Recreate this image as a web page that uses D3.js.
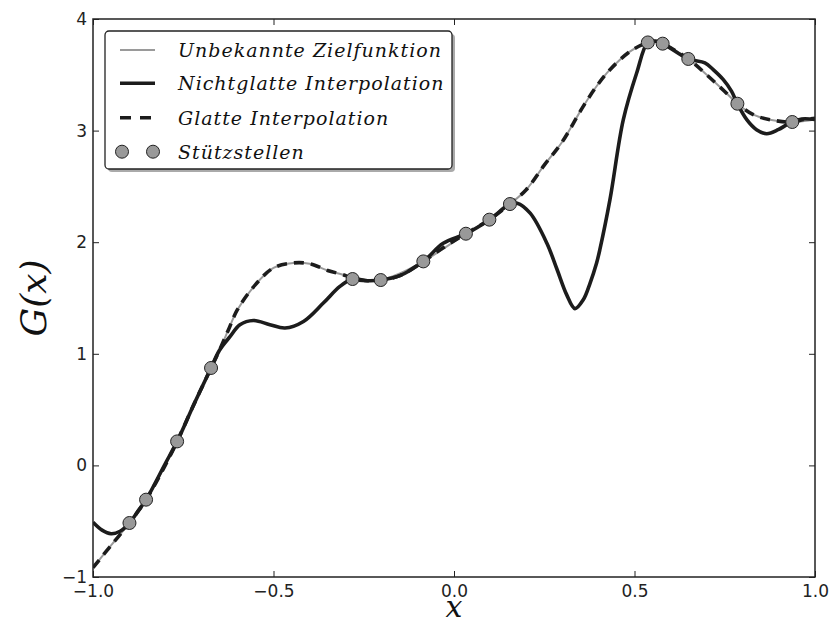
<!DOCTYPE html>
<html lang="de">
<head>
<meta charset="UTF-8">
<script src="https://d3js.org/d3.v7.min.js"></script>
<title>Interpolation</title>
<style>
  body { margin: 0; background: #fff; }
</style>
</head>
<body>
<div id="chart"></div>
<script>
// unknown target function (gray)
const targetX = [-1.0, -0.95, -0.899, -0.853, -0.8, -0.767, -0.72, -0.673, -0.65, -0.625, -0.6, -0.55, -0.5, -0.445, -0.4, -0.35, -0.3, -0.281, -0.24, -0.203, -0.15, -0.085, -0.03, 0.033, 0.098, 0.155, 0.2, 0.25, 0.3, 0.358, 0.4, 0.432, 0.488, 0.537, 0.56, 0.578, 0.649, 0.7, 0.75, 0.785, 0.829, 0.875, 0.937, 0.97, 1.0];
const targetY = [-0.917, -0.717, -0.516, -0.307, 0.0, 0.215, 0.55, 0.873, 1.03, 1.214, 1.395, 1.62, 1.77, 1.814, 1.807, 1.747, 1.70, 1.670, 1.655, 1.661, 1.72, 1.828, 1.94, 2.076, 2.202, 2.342, 2.47, 2.69, 2.90, 3.217, 3.42, 3.546, 3.710, 3.790, 3.80, 3.779, 3.642, 3.50, 3.35, 3.241, 3.143, 3.098, 3.077, 3.085, 3.10];

// non-smooth interpolation (black)
const roughX = [-1.0, -0.975, -0.95, -0.925, -0.899, -0.875, -0.853, -0.8, -0.767, -0.72, -0.673, -0.65, -0.62, -0.593, -0.556, -0.51, -0.468, -0.417, -0.362, -0.316, -0.281, -0.24, -0.203, -0.15, -0.085, -0.03, 0.033, 0.098, 0.155, 0.175, 0.211, 0.257, 0.285, 0.312, 0.335, 0.358, 0.377, 0.395, 0.404, 0.432, 0.469, 0.506, 0.537, 0.558, 0.578, 0.649, 0.695, 0.718, 0.746, 0.769, 0.785, 0.811, 0.838, 0.866, 0.898, 0.922, 0.937, 0.963, 1.0];
const roughY = [-0.51, -0.58, -0.612, -0.59, -0.516, -0.407, -0.307, 0.015, 0.215, 0.55, 0.873, 1.03, 1.156, 1.26, 1.299, 1.261, 1.231, 1.29, 1.455, 1.604, 1.670, 1.655, 1.661, 1.70, 1.828, 1.99, 2.076, 2.202, 2.342, 2.35, 2.26, 1.993, 1.76, 1.53, 1.405, 1.484, 1.634, 1.814, 1.933, 2.381, 3.098, 3.516, 3.790, 3.80, 3.779, 3.642, 3.606, 3.546, 3.456, 3.351, 3.241, 3.098, 3.008, 2.972, 3.008, 3.053, 3.077, 3.104, 3.10];

// smooth interpolation (dashed)
const smoothX = [-1.0, -0.95, -0.899, -0.853, -0.8, -0.767, -0.72, -0.673, -0.65, -0.625, -0.6, -0.55, -0.5, -0.445, -0.4, -0.35, -0.3, -0.281, -0.24, -0.203, -0.15, -0.085, -0.03, 0.033, 0.098, 0.155, 0.2, 0.25, 0.3, 0.358, 0.4, 0.432, 0.488, 0.537, 0.56, 0.578, 0.649, 0.7, 0.75, 0.785, 0.829, 0.875, 0.937, 0.97, 1.0];
const smoothY = [-0.917, -0.717, -0.516, -0.307, 0.0, 0.215, 0.55, 0.873, 1.03, 1.214, 1.395, 1.62, 1.77, 1.814, 1.807, 1.747, 1.70, 1.670, 1.655, 1.661, 1.70, 1.828, 1.95, 2.076, 2.202, 2.342, 2.47, 2.69, 2.90, 3.217, 3.42, 3.546, 3.710, 3.790, 3.80, 3.779, 3.642, 3.50, 3.35, 3.241, 3.143, 3.098, 3.077, 3.10, 3.11];

// support points
const nodeX = [-0.899, -0.853, -0.767, -0.673, -0.281, -0.203, -0.085, 0.033, 0.098, 0.155, 0.537, 0.578, 0.649, 0.785, 0.937];
const nodeY = [-0.516, -0.307, 0.215, 0.873, 1.670, 1.661, 1.828, 2.076, 2.202, 2.342, 3.790, 3.779, 3.642, 3.241, 3.077];

const xTicks = [-1.0, -0.5, 0.0, 0.5, 1.0];
const yTicks = [-1, 0, 1, 2, 3, 4];
const legendLabels = ["Unbekannte Zielfunktion", "Nichtglatte Interpolation", "Glatte Interpolation", "Stützstellen"];

const W = 832, H = 626;
const margin = {top: 19, right: 17, bottom: 49, left: 93};
const width = W - margin.left - margin.right,
      height = H - margin.top - margin.bottom;

const svg = d3.select("#chart").append("svg")
    .attr("width", W).attr("height", H);

const g = svg.append("g")
    .attr("transform", "translate(" + margin.left + "," + margin.top + ")");

const x = d3.scaleLinear().domain([-1, 1]).range([0, width]);
const y = d3.scaleLinear().domain([-1, 4]).range([height, 0]);

g.append("clipPath").attr("id", "clip")
  .append("rect").attr("width", width).attr("height", height);

const line = d3.line()
    .x(d => x(d[0])).y(d => y(d[1]))
    .curve(d3.curveCatmullRom.alpha(0.5));

const zip = (a, b) => a.map((v, i) => [v, b[i]]);

const plot = g.append("g").attr("clip-path", "url(#clip)");

plot.append("path").datum(zip(targetX, targetY))
    .attr("d", line).attr("fill", "none")
    .attr("stroke", "#9a9a9a").attr("stroke-width", 2);

plot.append("path").datum(zip(roughX, roughY))
    .attr("d", line).attr("fill", "none")
    .attr("stroke", "#1c1c1c").attr("stroke-width", 3.6);

plot.append("path").datum(zip(smoothX, smoothY))
    .attr("d", line).attr("fill", "none")
    .attr("stroke", "#1c1c1c").attr("stroke-width", 3.6)
    .attr("stroke-dasharray", "10,7");

g.append("g").selectAll("circle").data(zip(nodeX, nodeY)).enter()
  .append("circle")
    .attr("cx", d => x(d[0])).attr("cy", d => y(d[1]))
    .attr("r", 6.5)
    .attr("fill", "#999").attr("stroke", "#222").attr("stroke-width", 1);

// axes, ticks pointing in
const tickFont = "'DejaVu Sans', sans-serif";
const ax = [
  g.append("g").attr("transform", "translate(0," + height + ")")
    .call(d3.axisBottom(x).tickValues(xTicks).tickFormat(d3.format(".1f")).tickSize(-6).tickPadding(8)),
  g.append("g")
    .call(d3.axisLeft(y).tickValues(yTicks).tickFormat(d3.format("d")).tickSize(-6).tickPadding(6)),
  g.append("g")
    .call(d3.axisTop(x).tickValues(xTicks).tickFormat("").tickSize(-6)),
  g.append("g").attr("transform", "translate(" + width + ",0)")
    .call(d3.axisRight(y).tickValues(yTicks).tickFormat("").tickSize(-6))
];
ax.forEach(a => {
  a.select(".domain").remove();
  a.selectAll(".tick line").attr("stroke", "#222").attr("stroke-width", 1);
  a.selectAll(".tick text").attr("fill", "#222")
    .style("font-family", tickFont).style("font-size", "17px");
});

g.append("rect").attr("width", width).attr("height", height)
  .attr("fill", "none").attr("stroke", "#222").attr("stroke-width", 1.5);

// axis labels
const mathFont = "'DejaVu Serif', serif";
svg.append("text")
  .attr("x", 454).attr("y", 617)
  .attr("text-anchor", "middle")
  .style("font-family", mathFont).style("font-style", "italic")
  .style("font-size", "30px").attr("fill", "#111")
  .text("x");

svg.append("text")
  .attr("transform", "translate(46,298) rotate(-90)")
  .attr("text-anchor", "middle")
  .style("font-family", mathFont).style("font-style", "italic")
  .style("font-size", "36px").attr("fill", "#111")
  .text("G(x)");

// legend
const lg = svg.append("g").attr("transform", "translate(105,31)");
const lw = 347, lh = 138;
lg.append("rect").attr("x", 3).attr("y", 3).attr("width", lw).attr("height", lh)
  .attr("rx", 4).attr("fill", "#aaa");
lg.append("rect").attr("width", lw).attr("height", lh)
  .attr("rx", 4).attr("fill", "#fff").attr("stroke", "#222").attr("stroke-width", 1.3);

const rowY = [19, 52.3, 86.7, 120.7];
lg.append("line").attr("x1", 15).attr("x2", 50).attr("y1", rowY[0]).attr("y2", rowY[0])
  .attr("stroke", "#9a9a9a").attr("stroke-width", 2);
lg.append("line").attr("x1", 15).attr("x2", 50).attr("y1", rowY[1]).attr("y2", rowY[1])
  .attr("stroke", "#1c1c1c").attr("stroke-width", 3.6);
lg.append("line").attr("x1", 15).attr("x2", 50).attr("y1", rowY[2]).attr("y2", rowY[2])
  .attr("stroke", "#1c1c1c").attr("stroke-width", 3.6).attr("stroke-dasharray", "11,9");
[17, 48].forEach(cx => {
  lg.append("circle").attr("cx", cx).attr("cy", rowY[3]).attr("r", 6.5)
    .attr("fill", "#999").attr("stroke", "#222").attr("stroke-width", 1);
});

lg.selectAll("text.lbl").data(legendLabels).enter()
  .append("text").attr("class", "lbl")
  .attr("x", 73).attr("y", (d, i) => rowY[i] + 7)
  .style("font-family", mathFont).style("font-style", "italic")
  .style("font-size", "19px").style("letter-spacing", "1px")
  .attr("fill", "#111")
  .text(d => d);
</script>
</body>
</html>
